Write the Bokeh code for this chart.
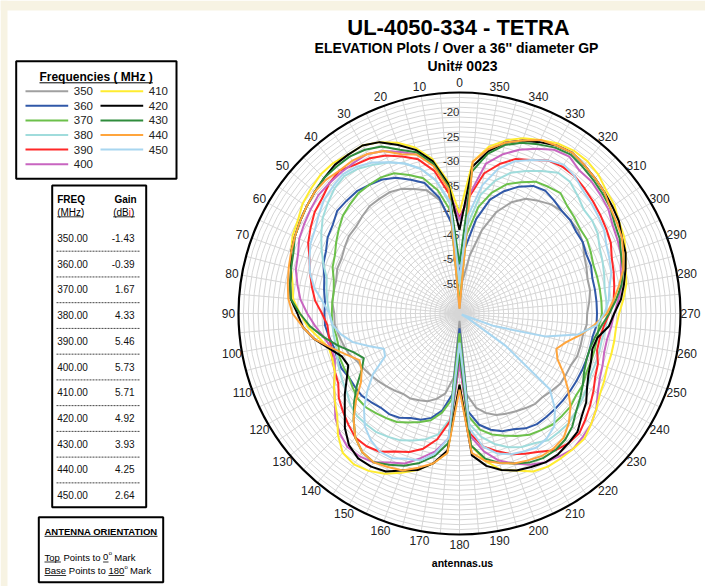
import numpy as np
from bokeh.plotting import figure
from bokeh.models import Range1d
from bokeh.embed import file_html
from bokeh.resources import INLINE
from bokeh.core.properties import value

# ---------------- data (dB vs elevation angle) ----------------
ANGLES = list(range(0, 360, 5))
F350 = [-60,-42.5,-37.5,-35,-34,-33,-32.5,-32.5,-32.5,-33,-33.5,-33.5,-34,-34.5,-34.5,-35,-35,-35,-35.5,-35.5,
        -36,-36.5,-37,-38,-38.5,-39,-39.5,-40,-40.5,-41,-41,-41.5,-42,-43,-44.5,-48,-59.5,-44.5,-41.5,-40,
        -39,-38.5,-38,-37.5,-37,-37,-36.5,-36,-36,-36,-35.5,-35.5,-35.5,-35,-35,-34.5,-34,-34,-33.5,-33,
        -32,-31.5,-31.5,-31.5,-32,-33,-34,-36,-39,-43.5,-49,-54.5]
F360 = [-53,-42.5,-37,-33.5,-32,-30.5,-29.5,-29,-28.5,-28.5,-28.5,-29.5,-30,-31,-31.5,-32.5,-33,-33.5,-33.5,-33.5,
        -34,-34.5,-34.5,-34.5,-35,-35,-35,-35.5,-36,-36,-36.5,-37.5,-38,-39,-41,-44.5,-58,-41,-38,-36.5,
        -35.5,-35,-34,-33.5,-33.5,-33.5,-33.5,-33.5,-33.5,-33.5,-33.5,-33.5,-33.5,-33,-33,-33,-33,-33,-32.5,-32.5,
        -32,-32,-31.5,-31.5,-31,-30.5,-31,-32.5,-34.5,-37,-41.5,-47.5]
F370 = [-59,-40,-35.5,-32.5,-31,-29.5,-29,-29,-29,-29.5,-30,-31,-32,-33,-33.5,-34.5,-35,-35,-35,-35,
        -35.5,-35.5,-35,-35,-35,-34.5,-34,-34,-34.5,-35,-35.5,-36.5,-37.5,-38.5,-40.5,-43.5,-57,-40,-37,-35.5,
        -34.5,-33.5,-32.5,-32,-31.5,-31.5,-31.5,-32,-32,-32.5,-32.5,-32.5,-32.5,-32.5,-32,-32,-32,-32,-32,-31.5,
        -31,-31,-30.5,-30,-29,-29.5,-30,-31.5,-33,-35.5,-39,-45]
F380 = [-55,-38.5,-33.5,-30.5,-28.5,-27,-26,-25,-24.5,-25,-26,-27,-28.5,-30,-31.5,-33,-33.5,-34,-34.5,-35,
        -35,-35,-34.5,-34,-33.5,-33,-32,-31.5,-31.5,-31.5,-32,-32.5,-33.5,-34.5,-36,-39.5,-55,-38.5,-35.5,-33.5,
        -32,-31,-30.5,-29.5,-29.5,-29.5,-30,-30.5,-31,-31.5,-31.5,-31.5,-31.5,-31,-31,-31,-31,-30.5,-30,-29.5,
        -28.5,-28,-28,-27,-26,-26,-27.5,-29,-30.5,-33,-36.5,-43]
F390 = [-41.5,-36.5,-31.5,-28.5,-27,-25.5,-24.5,-24,-23,-23.5,-24.5,-25,-26,-27,-28.5,-29.5,-30.5,-31.5,-33,-34,
        -34,-34,-33.5,-33,-32.5,-31,-30,-29,-28,-28,-28.5,-30,-31,-32.5,-35,-39,-51,-36.5,-33.5,-32,
        -30.5,-29.5,-28.5,-27,-26.5,-26.5,-27.5,-28.5,-29.5,-30.5,-31,-32,-32,-31.5,-30.5,-29.5,-29,-28.5,-28,-27,
        -26.5,-26,-25.5,-25,-24.5,-24.5,-25,-26.5,-27.5,-29.5,-32,-37]
F400 = [-42,-35.5,-30,-27.5,-26,-24.5,-23.5,-23.5,-23.5,-23.5,-23.5,-24,-24.5,-25,-26,-26.5,-27.5,-28.5,-30,-31.5,
        -33,-34,-34,-33,-31.5,-30,-28,-26.5,-25.5,-25.5,-26,-27.5,-28.5,-30.5,-32.5,-35.5,-51,-36,-32.5,-30,
        -28.5,-27,-26,-25.5,-25,-25.5,-26,-27,-28.5,-29.5,-30,-30.5,-30.5,-30,-29.5,-28.5,-27.5,-27,-26,-25.5,
        -25,-24,-23.5,-23,-23,-22,-22.5,-24,-25.5,-27.5,-30,-36.5]
F410 = [-40.5,-34,-29,-26,-24,-22.5,-21.5,-21.5,-21,-21,-21.5,-22,-23,-23.5,-24.5,-25.5,-26.5,-27,-28.5,-30,
        -32,-33.5,-33.5,-33,-31.5,-30,-28.5,-26,-24,-23.5,-24,-25,-26.5,-28,-30,-32.5,-46.5,-34,-30.5,-28,
        -27,-25.5,-25,-25,-25,-25,-26,-27,-28,-28.5,-29,-29,-29,-29,-28.5,-27.5,-26.5,-26,-25,-24,
        -23.5,-22.5,-22,-21,-20.5,-20.5,-21,-22,-23,-24.5,-26.5,-30]
F420 = [-44,-34.5,-29.5,-26.5,-24.5,-22.5,-21.5,-21.5,-21.5,-22,-22.5,-23,-23.5,-24,-24.5,-25.5,-26,-26.5,-28,-29,
        -31,-33.5,-35.5,-36,-34.5,-32.5,-30.5,-28,-26,-25,-25,-25.5,-27,-28,-30,-33,-46.5,-32,-29.5,-28,
        -27,-26.5,-26,-26,-26.5,-27,-28.5,-29.5,-31,-32,-32.5,-33,-32.5,-30.5,-29.5,-28,-27,-26,-25,-24.5,
        -23.5,-23,-22.5,-22,-21.5,-21,-21.5,-22.5,-23.5,-25,-27.5,-31]
F430 = [-51,-35,-30,-27,-25.5,-23.5,-22.5,-22,-22,-22,-22.5,-23,-23.5,-24,-25,-25.5,-26,-26.5,-28.5,-30.5,
        -33,-35.5,-38,-39.5,-38,-35.5,-33,-30.5,-28,-26.5,-26,-27,-28,-29.5,-31.5,-34.5,-53,-34,-31,-29.5,
        -28.5,-27.5,-27,-27,-27.5,-28.5,-30,-31,-32,-33,-33.5,-33.5,-33,-32,-30.5,-29,-27.5,-26.5,-26,-25,
        -24.5,-23.5,-23,-22.5,-22,-21.5,-22,-23,-24,-25.5,-28,-32]
F440 = [-60,-35.5,-30.5,-27.5,-26.5,-24.5,-23.5,-23,-23,-22.5,-22.5,-23,-23.5,-24,-24.5,-25,-25.5,-26,-27,-29,
        -31,-34,-36.5,-38.5,-38,-36.5,-33.5,-30.5,-28,-26.5,-26,-26.5,-27,-28.5,-30,-32.5,-45.5,-32.5,-30.5,-29.5,
        -28.5,-28,-27.5,-27.5,-28,-29.5,-31.5,-34,-36.5,-39,-40,-38.5,-36,-33.5,-31,-29.5,-28,-26.5,-25.5,-24.5,
        -24,-23.5,-22.5,-22,-21.5,-21,-21.5,-22,-23.5,-25,-27,-30]
F450 = [-54,-38,-33.5,-30.5,-28.5,-27,-25.5,-24.5,-24,-24.5,-25,-26,-27,-27.5,-28.5,-29.5,-31,-33,-34.5,-35,
        -36.5,-38.5,-41.5,-44,-43.5,-39.5,-36.5,-33.5,-31,-29.5,-28.5,-28.5,-29.5,-30,-32,-35.5,-55,-37.5,-33.5,-31.5,
        -30.5,-30,-29.5,-30,-31,-33.5,-37,-49.5,-59,-60.5,-53.5,-43,-36.5,-33,-31.5,-30.5,-30,-29,-28.5,-28,
        -27,-26.5,-26,-25.5,-24.5,-24,-25,-26.5,-28,-30.5,-34.5,-41]
SERIES = [F350, F360, F370, F380, F390, F400, F410, F420, F430, F440, F450]
FREQS = [350, 360, 370, 380, 390, 400, 410, 420, 430, 440, 450]
GAINS = [-1.43, -0.39, 1.67, 4.33, 5.46, 5.73, 5.71, 4.92, 3.93, 4.25, 2.64]
COLORS = ["#a0a0a0", "#3058a8", "#6cc04a", "#a0dcdc", "#ff2828", "#c865c0",
          "#ffec30", "#000000", "#2f8c3c", "#ffa53c", "#a8d6f0"]
RING_TICKS = [-20, -25, -30, -35, -40, -45, -50, -55]
ANGLE_TICKS = list(range(0, 360, 10))
R_MIN, R_MAX = -61, -16

# ---------------- figure (1 data unit = 1 screen pixel) ----------------
W, H = 705, 586
p = figure(width=W, height=H, x_range=Range1d(0, W), y_range=Range1d(0, H),
           output_backend="svg", toolbar_location=None, min_border=0,
           x_axis_location=None, y_axis_location=None,
           background_fill_color="white", border_fill_color="white")
p.grid.visible = False
p.outline_line_color = None
FONT = "Liberation Sans"

def X(v): return v
def Y(v): return H - v

def txt(x, y, s, size, bold=False, align="left", color="#000000"):
    # y is the visual centre of the text line
    p.text(x=[X(x)], y=[Y(y)], text=[s], text_font=value(FONT), text_font_size=value("%spx" % size),
           text_font_style=value("bold" if bold else "normal"), text_align=value(align),
           text_baseline=value("middle"), text_color=value(color))

def uline(x0, x1, y, w=1, color="#000000"):
    p.segment(x0=[X(x0)], y0=[Y(y)], x1=[X(x1)], y1=[Y(y)], line_color=color, line_width=w)

# cream page strips (top and left)
CREAM = "#f7f3e3"
p.quad(left=[0], right=[W], top=[H], bottom=[H - 10], fill_color=CREAM, line_color=None)
p.quad(left=[0], right=[7], top=[H], bottom=[0], fill_color=CREAM, line_color=None)

# ---------------- polar grid ----------------
CXp, CYp = 459, 313
cx, cy = X(CXp), Y(CYp)
K = 221.0 / (R_MAX - R_MIN)
rings = np.arange(R_MIN + 1, R_MAX)
p.circle(x=[cx] * len(rings), y=[cy] * len(rings), radius=list((rings - R_MIN) * K),
         fill_color=None, line_color="#d6d6d6", line_width=1)
sp = np.radians(np.arange(0, 360, 5))
R_OUT = (R_MAX - R_MIN) * K
p.segment(x0=[cx] * len(sp), y0=[cy] * len(sp), x1=list(cx - R_OUT * np.sin(sp)),
          y1=list(cy + R_OUT * np.cos(sp)), line_color="#d6d6d6", line_width=1)
for t in RING_TICKS:
    txt(CXp, CYp - (t - R_MIN) * K, str(t), 11.5, align="right", color="#333333")
p.circle(x=[cx], y=[cy], radius=[R_OUT], fill_color=None, line_color="black", line_width=2.2)
for a in ANGLE_TICKS:
    ar = np.radians(a)
    txt(CXp - 231 * np.sin(ar), CYp - 231 * np.cos(ar), str(a), 12, align="center", color="#222222")

# ---------------- curves ----------------
ang = np.radians(np.array(ANGLES + [360]))
for vals, col in zip(SERIES, COLORS):
    v = np.array(vals + [vals[0]], dtype=float)
    r = (v - R_MIN) * K
    p.line(x=cx - r * np.sin(ang), y=cy + r * np.cos(ang), line_color=col, line_width=2)

# ---------------- titles ----------------
txt(458, 26.5, "UL-4050-334 - TETRA", 22, bold=True, align="center")
txt(456, 47.5, "ELEVATION Plots / Over a 36'' diameter GP", 14, bold=True, align="center")
txt(462, 65.5, "Unit# 0023", 14, bold=True, align="center")
txt(462, 562, "antennas.us", 10.5, bold=True, align="center")

# ---------------- legend box ----------------
p.quad(left=[X(15.7)], right=[X(176)], top=[Y(60.7)], bottom=[Y(178.3)],
       fill_color="white", line_color="black", line_width=2)
txt(95.6, 76, "Frequencies ( MHz )", 12, bold=True, align="center")
uline(39, 152.3, 82.3)
for i, (f, c) in enumerate(zip(FREQS, COLORS)):
    col, row = (0, i) if i < 6 else (1, i - 6)
    yy = 90.7 + 14.6 * row
    x0 = 25 if col == 0 else 100
    p.segment(x0=[X(x0)], y0=[Y(yy)], x1=[X(x0 + 42.7)], y1=[Y(yy)], line_color=c, line_width=2)
    txt(x0 + 48.3, yy, str(f), 11.5, color="#222222")

# ---------------- gain table ----------------
p.quad(left=[X(51.7)], right=[X(145.7)], top=[Y(185)], bottom=[Y(506.7)],
       fill_color="white", line_color="black", line_width=2)
txt(56.7, 199, "FREQ", 10, bold=True)
txt(114, 199, "Gain", 10, bold=True)
txt(56.7, 211.5, "(MHz)", 10)
uline(56.7, 82.7, 216.3, 0.8)
txt(112.7, 211.5, "(dB", 10)
txt(128.3, 211.5, "i", 10, color="#ff0000")
txt(130.5, 211.5, ")", 10)
uline(112.7, 134.3, 216.3, 0.8)
for i, (f, g) in enumerate(zip(FREQS, GAINS)):
    yy = 237.3 + 25.74 * i
    txt(56.7, yy, "%.2f" % f, 10, color="#111111")
    txt(134, yy, "%.2f" % g, 10, align="right", color="#111111")
    if i < len(FREQS) - 1:
        p.segment(x0=[X(56)], y0=[Y(yy + 13.4)], x1=[X(140)], y1=[Y(yy + 13.4)],
                  line_color="#444444", line_width=1, line_dash="2 1")

# ---------------- orientation box ----------------
p.quad(left=[X(38.3)], right=[X(162.7)], top=[Y(516.7)], bottom=[Y(581.7)],
       fill_color="white", line_color="black", line_width=2)
txt(100.5, 530.5, "ANTENNA ORIENTATION", 9.5, bold=True, align="center")
uline(44, 157, 535.8, 0.9)
fs = 9.5
y1, y2 = 556.5, 570
txt(44.0, y1, "Top", fs); uline(44.0, 60.4, 561.5, 0.8)
txt(63.0, y1, "Points to", fs)
txt(102.6, y1, "0", fs); uline(102.6, 108.0, 561.5, 0.8)
txt(108.2, y1 - 4, "o", 6)
txt(113.8, y1, "Mark", fs)
txt(44.0, y2, "Base", fs); uline(44.0, 65.7, 575, 0.8)
txt(68.3, y2, "Points to", fs)
txt(107.9, y2, "180", fs); uline(107.9, 123.8, 575, 0.8)
txt(124.0, y2 - 4, "o", 6)
txt(129.6, y2, "Mark", fs)

open("out.html", "w").write(file_html(p, INLINE))
